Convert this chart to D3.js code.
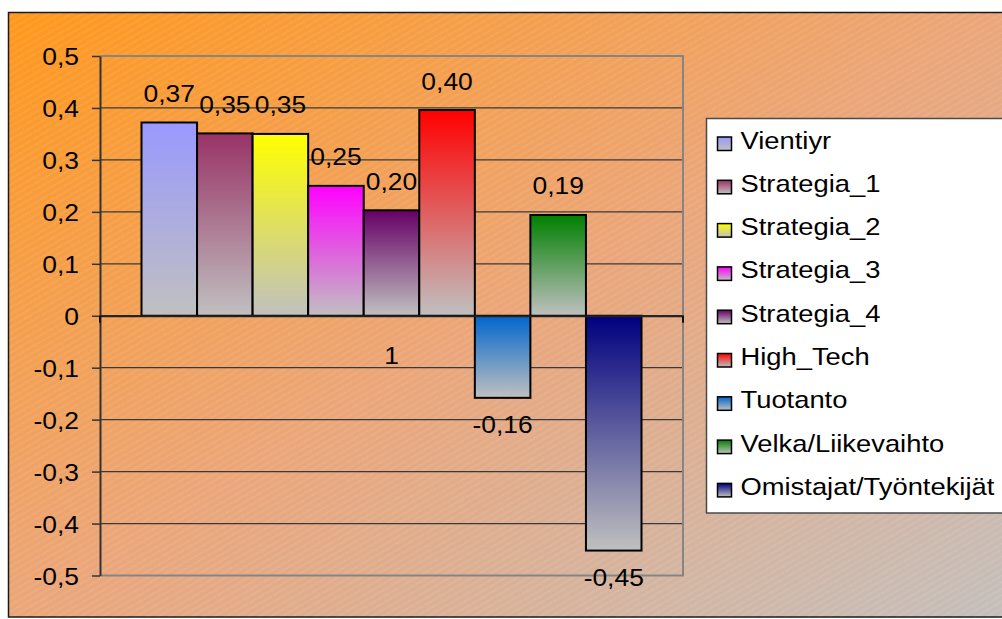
<!DOCTYPE html>
<html>
<head>
<meta charset="utf-8">
<script src="https://cdn.jsdelivr.net/npm/d3@7"></script>
<style>
  html, body { margin: 0; padding: 0; background: #fff; }
  svg { display: block; }
  text { font-family: "Liberation Sans", Arial, sans-serif; font-size: 24px; fill: #000; }
</style>
</head>
<body>
<svg id="chart" width="1002" height="619"></svg>
<script>
// Category, series and values
const categories = ["1"];
const seriesNames = [
  "Vientiyr", "Strategia_1", "Strategia_2", "Strategia_3", "Strategia_4",
  "High_Tech", "Tuotanto", "Velka/Liikevaihto", "Omistajat/Työntekijät"
];
const seriesValues = [0.372, 0.351, 0.350, 0.250, 0.203, 0.396, -0.158, 0.194, -0.452];
const seriesColors = [
  "#9999FF", "#993366", "#FFFF00", "#FF00FF", "#660066",
  "#FF0000", "#0066CC", "#008000", "#000080"
];
const yTickValues = [0.5, 0.4, 0.3, 0.2, 0.1, 0, -0.1, -0.2, -0.3, -0.4, -0.5];

const SX = 1.1;    // horizontal stretch of axis and value lettering
const SXL = 1.14;  // horizontal stretch of legend lettering
const FS = "24px";

const fi = d3.formatLocale({ decimal: ",", thousands: " ", grouping: [3], currency: ["", "€"], minus: "-" });
const fmtTick = fi.format("~g");
const fmtLabel = fi.format(".2f");

const svg = d3.select("#chart");
const defs = svg.append("defs");

// Chart area background: orange to grey diagonal fill with fine white hatching
const bg = defs.append("linearGradient").attr("id", "bgGrad")
  .attr("x1", 0).attr("y1", 0).attr("x2", 1).attr("y2", 1);
bg.append("stop").attr("offset", 0).attr("stop-color", "#FF981C");
bg.append("stop").attr("offset", 0.5).attr("stop-color", "#EBA67A");
bg.append("stop").attr("offset", 1).attr("stop-color", "#C4BFBC");

const hatch = defs.append("pattern").attr("id", "hatch")
  .attr("patternUnits", "userSpaceOnUse").attr("width", 12).attr("height", 5.6)
  .attr("patternTransform", "rotate(-30)");
hatch.append("line").attr("x1", 0).attr("x2", 12).attr("y1", 2.8).attr("y2", 2.8)
  .attr("stroke", "#fff").attr("stroke-opacity", 0.3).attr("stroke-width", 0.7)
  .attr("stroke-dasharray", "1.5 1");

// Bar fills: series colour at the top fading to grey at the bottom
seriesColors.forEach((c, i) => {
  const g = defs.append("linearGradient").attr("id", "barGrad" + i)
    .attr("x1", 0).attr("y1", 0).attr("x2", 0).attr("y2", 1);
  g.append("stop").attr("offset", 0).attr("stop-color", c);
  g.append("stop").attr("offset", 1).attr("stop-color", "#C0C0C0");
});

// Frame
svg.append("rect").attr("x", 8.5).attr("y", 12.5).attr("width", 1000).attr("height", 604.5)
  .attr("fill", "url(#bgGrad)").attr("stroke", "#1a1a1a").attr("stroke-width", 1.5);
svg.append("rect").attr("x", 9).attr("y", 13).attr("width", 1000).attr("height", 603.5)
  .attr("fill", "url(#hatch)");

// Plot area
const plot = { left: 100, right: 683, top: 56, bottom: 575.5 };

const y = d3.scaleLinear().domain([-0.5, 0.5]).range([plot.bottom, plot.top]);
const x0 = d3.scaleBand().domain(categories).range([plot.left, plot.right])
  .paddingInner(0).paddingOuter(0.083);
const x1 = d3.scaleBand().domain(seriesNames).range([0, x0.bandwidth()]);

// Gridlines
svg.append("g").selectAll("line")
  .data(yTickValues.filter(v => v !== 0.5 && v !== -0.5))
  .join("line")
  .attr("x1", plot.left).attr("x2", plot.right)
  .attr("y1", d => y(d)).attr("y2", d => y(d))
  .attr("stroke", "#3a3a3a").attr("stroke-width", 1.3);

// Plot area border (grey)
svg.append("path")
  .attr("d", `M${plot.left},${y(0.5)}H${plot.right}V${y(-0.5)}H${plot.left}`)
  .attr("fill", "none").attr("stroke", "#858585").attr("stroke-width", 2);

// Bars
const barData = seriesNames.map((name, i) => ({ name, value: seriesValues[i], i }));
svg.append("g").selectAll("rect")
  .data(barData)
  .join("rect")
  .attr("x", d => x0("1") + x1(d.name))
  .attr("width", x1.bandwidth())
  .attr("y", d => y(Math.max(0, d.value)))
  .attr("height", d => Math.abs(y(d.value) - y(0)))
  .attr("fill", d => `url(#barGrad${d.i})`)
  .attr("stroke", "#000").attr("stroke-width", 2);

// Value axis
const yAxis = svg.append("g")
  .attr("transform", `translate(${plot.left},0)`)
  .call(d3.axisLeft(y).tickValues(yTickValues).tickFormat(fmtTick).tickSize(8).tickSizeOuter(0));
yAxis.select(".domain").attr("stroke", "#333").attr("stroke-width", 2);
yAxis.selectAll(".tick line").attr("stroke", "#333").attr("stroke-width", 1.5);
yAxis.selectAll(".tick text")
  .attr("x", -21 / SX).attr("dy", null).attr("y", 8.5)
  .attr("transform", `scale(${SX},1)`)
  .style("font-size", FS).style("font-family", "'Liberation Sans', Arial, sans-serif")
  .attr("fill", "#000");

// Category axis along zero
const xAxis = svg.append("g")
  .attr("transform", `translate(0,${y(0)})`)
  .call(d3.axisBottom(x0).tickSize(0).tickSizeOuter(0));
xAxis.select(".domain").attr("stroke", "#222").attr("stroke-width", 2);
xAxis.selectAll(".tick text")
  .attr("dy", null).attr("y", 48)
  .attr("transform", `scale(${SX},1)`)
  .style("font-size", FS).style("font-family", "'Liberation Sans', Arial, sans-serif")
  .attr("fill", "#000");
// Tick marks between categories at both ends of the axis
xAxis.selectAll(".edge")
  .data(x0.range())
  .join("line").attr("class", "edge")
  .attr("x1", d => d).attr("x2", d => d)
  .attr("y1", 0).attr("y2", 7)
  .attr("stroke", "#111").attr("stroke-width", 2);

// Data labels
svg.append("g").selectAll("text")
  .data(barData)
  .join("text")
  .attr("text-anchor", "middle")
  .attr("transform", d => {
    const cx = x0("1") + x1(d.name) + x1.bandwidth() / 2;
    const ty = d.value >= 0 ? y(d.value) - 20.5 : y(d.value) + 35.5;
    return `translate(${cx},${ty}) scale(${SX},1)`;
  })
  .text(d => fmtLabel(d.value));

// Legend
const legend = { x: 706.5, y: 118.5, rowTop: 148.5, rowStep: 43.3 };
svg.append("rect").attr("x", legend.x).attr("y", legend.y)
  .attr("width", 310).attr("height", 394.5)
  .attr("fill", "#fff").attr("stroke", "#4a4a4a").attr("stroke-width", 1.5);

const items = svg.append("g").selectAll("g")
  .data(barData)
  .join("g")
  .attr("transform", d => `translate(0,${legend.rowTop + d.i * legend.rowStep})`);
items.append("rect")
  .attr("x", 717.5).attr("y", -11.5).attr("width", 14).attr("height", 13.5)
  .attr("fill", d => `url(#barGrad${d.i})`)
  .attr("stroke", "#000").attr("stroke-width", 1.5);
items.append("text")
  .attr("transform", `translate(740.5,0) scale(${SXL},1)`)
  .text(d => d.name);
</script>
</body>
</html>
